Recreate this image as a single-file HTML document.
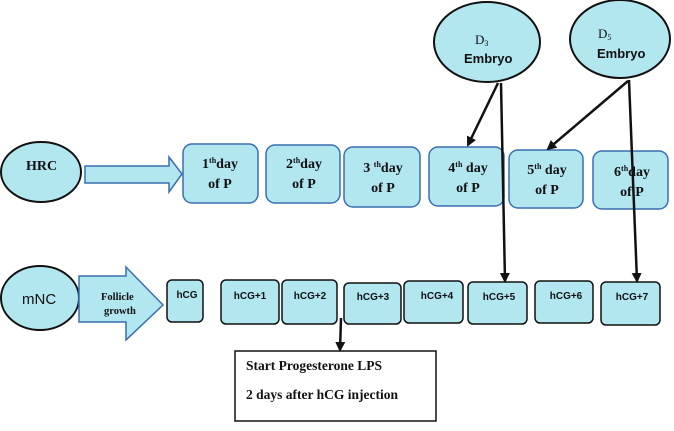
<!DOCTYPE html>
<html><head><meta charset="utf-8"><style>
html,body{margin:0;padding:0;background:#fff;}
svg{display:block;}
.s{font-family:"Liberation Serif",serif;font-weight:bold;font-size:14px;fill:#111;}
.a{font-family:"Liberation Sans",sans-serif;font-weight:bold;font-size:10px;fill:#111;}
</style></head><body>
<svg width="674" height="431" viewBox="0 0 674 431" xmlns="http://www.w3.org/2000/svg">
<defs><marker id="ah" markerWidth="10" markerHeight="10" refX="8" refY="5" orient="auto" markerUnits="userSpaceOnUse"><path d="M0,0 L10,5 L0,10 Z" fill="#111"/></marker></defs>
<g fill="#b2e7f0" stroke="#111" stroke-width="2">
<ellipse cx="41" cy="172" rx="40" ry="30"/>
<ellipse cx="40" cy="298" rx="39" ry="32"/>
<ellipse cx="487" cy="42" rx="53" ry="40"/>
<ellipse cx="620" cy="39" rx="50" ry="39"/>
</g>
<g fill="#b2e7f0" stroke="#3a6fb0" stroke-width="1.5">
<path d="M85,166 L169,166 L169,157 L182,174 L169,192 L169,183 L85,183 Z"/>
<path d="M79,276 L126,276 L126,267 L163,305 L126,340 L126,322 L79,322 Z"/>
<rect x="183" y="144" width="75" height="59" rx="9"/>
<rect x="266" y="145" width="74" height="58" rx="9"/>
<rect x="344" y="147" width="76" height="60" rx="9"/>
<rect x="429" y="147" width="75" height="59" rx="9"/>
<rect x="509" y="150" width="74" height="58" rx="9"/>
<rect x="593" y="151" width="75" height="58" rx="9"/>
</g>
<g fill="#b2e7f0" stroke="#111" stroke-width="1.5">
<rect x="167" y="280" width="36" height="42" rx="5"/>
<rect x="221" y="280" width="58" height="44" rx="5"/>
<rect x="282" y="280" width="55" height="44" rx="5"/>
<rect x="344" y="283" width="57" height="41" rx="5"/>
<rect x="404" y="281" width="59" height="42" rx="5"/>
<rect x="468" y="282" width="59" height="42" rx="5"/>
<rect x="535" y="281" width="58" height="42" rx="5"/>
<rect x="601" y="282" width="59" height="43" rx="5"/>
</g>
<rect x="235" y="351" width="201" height="70" fill="#fff" stroke="#111" stroke-width="1.5"/>
<g stroke="#111" stroke-width="2.5" fill="none">
<line x1="498" y1="83" x2="468" y2="145" marker-end="url(#ah)"/>
<line x1="501" y1="83" x2="505" y2="281" marker-end="url(#ah)"/>
<line x1="628" y1="81" x2="548" y2="149" marker-end="url(#ah)"/>
<line x1="629" y1="80" x2="637" y2="281" marker-end="url(#ah)"/>
<line x1="341" y1="318" x2="340" y2="350" marker-end="url(#ah)"/>
</g>
<text class="s" x="26" y="170">HRC</text>
<text x="22" y="304" style="font-family:'Liberation Sans',sans-serif;font-size:15px;fill:#111">mNC</text>
<text class="s" x="475" y="44" style="font-size:13px;font-weight:normal">D<tspan style="font-size:8px" dy="2">3</tspan></text>
<text class="a" x="464" y="63" style="font-size:13px">Embryo</text>
<text class="s" x="598" y="38" style="font-size:13px;font-weight:normal">D<tspan style="font-size:8px" dy="2">5</tspan></text>
<text class="a" x="597" y="58" style="font-size:13px">Embryo</text>
<text class="s" x="101" y="300" style="font-size:10.5px">Follicle</text>
<text class="s" x="104" y="314" style="font-size:10.5px">growth</text>
<g class="s" text-anchor="middle">
<text x="220" y="168">1<tspan style="font-size:8px" dy="-5">th</tspan><tspan dy="5">day</tspan></text><text x="220" y="188">of P</text>
<text x="304" y="168">2<tspan style="font-size:8px" dy="-5">th</tspan><tspan dy="5">day</tspan></text><text x="304" y="188">of P</text>
<text x="383" y="172">3 <tspan style="font-size:8px" dy="-5">th</tspan><tspan dy="5">day</tspan></text><text x="383" y="192">of P</text>
<text x="468" y="172">4<tspan style="font-size:8px" dy="-5">th</tspan><tspan dy="5"> day</tspan></text><text x="468" y="192">of P</text>
<text x="547" y="174">5<tspan style="font-size:8px" dy="-5">th</tspan><tspan dy="5"> day</tspan></text><text x="547" y="194">of P</text>
<text x="632" y="176">6<tspan style="font-size:8px" dy="-5">th</tspan><tspan dy="5">day</tspan></text><text x="632" y="196">of P</text>
</g>
<g class="a" text-anchor="middle">
<text x="187" y="298">hCG</text>
<text x="250" y="299">hCG+1</text>
<text x="310" y="299">hCG+2</text>
<text x="373" y="300">hCG+3</text>
<text x="437" y="299">hCG+4</text>
<text x="499" y="300">hCG+5</text>
<text x="566" y="299">hCG+6</text>
<text x="632" y="300">hCG+7</text>
</g>
<text class="s" x="246" y="370" style="font-size:13.5px">Start Progesterone LPS</text>
<text class="s" x="246" y="399" style="font-size:13.5px">2 days after hCG injection</text>
</svg>
</body></html>
